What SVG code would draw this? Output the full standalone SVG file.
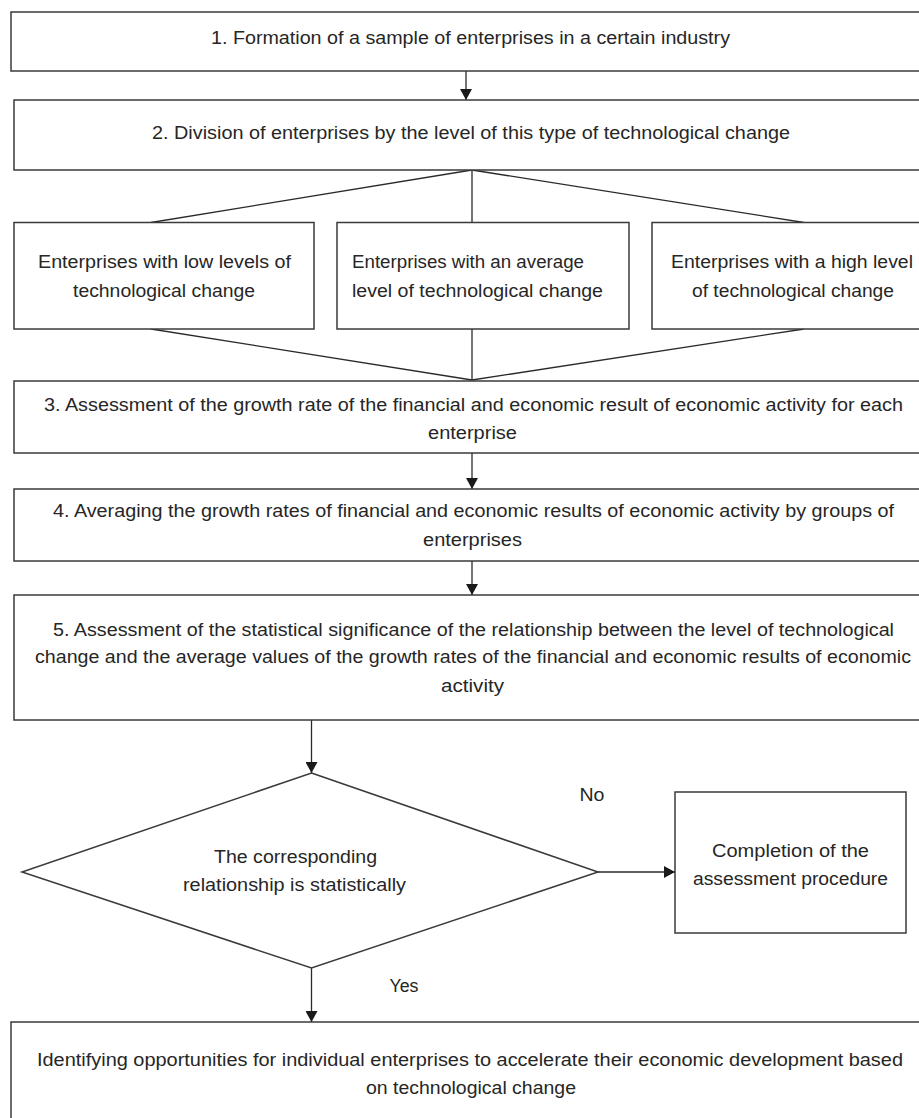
<svg xmlns="http://www.w3.org/2000/svg" width="919" height="1118" viewBox="0 0 919 1118">
<style>
.box{fill:#fff;stroke:#3a3a3a;stroke-width:1.5}
.ln{fill:none;stroke:#2a2a2a;stroke-width:1.3}
.t{font-family:"Liberation Sans",Arial,sans-serif;font-size:17.5px;fill:#262626;text-anchor:middle}
</style>
<defs>
<marker id="ah" markerUnits="userSpaceOnUse" markerWidth="12" markerHeight="12" refX="11" refY="6" orient="auto">
<path d="M0,0 L11,6 L0,12 Z" fill="#1a1a1a"/>
</marker>
</defs>
<rect width="919" height="1118" fill="#fff"/>
<g id="connectors">
<line class="ln" x1="466" y1="71" x2="466" y2="100" marker-end="url(#ah)"/>
<line class="ln" x1="472" y1="170" x2="151" y2="222.5"/>
<line class="ln" x1="472" y1="170" x2="472" y2="222.5"/>
<line class="ln" x1="472" y1="170" x2="804" y2="222.5"/>
<line class="ln" x1="151" y1="329" x2="472" y2="380"/>
<line class="ln" x1="472" y1="329" x2="472" y2="380"/>
<line class="ln" x1="804" y1="329" x2="472" y2="380"/>
<line class="ln" x1="472" y1="453" x2="472" y2="489" marker-end="url(#ah)"/>
<line class="ln" x1="472" y1="561" x2="472" y2="595" marker-end="url(#ah)"/>
<line class="ln" x1="311.5" y1="720" x2="311.5" y2="773" marker-end="url(#ah)"/>
<line class="ln" x1="598" y1="872" x2="675" y2="872" marker-end="url(#ah)"/>
<line class="ln" x1="311.5" y1="968" x2="311.5" y2="1022" marker-end="url(#ah)"/>
<text class="t" x="592" y="801" textLength="25" lengthAdjust="spacingAndGlyphs">No</text>
<text class="t" x="404" y="992" textLength="29" lengthAdjust="spacingAndGlyphs">Yes</text>
</g>
<g id="n1">
<rect class="box" x="11" y="12" width="1000" height="59"/>
<text class="t" x="470.5" y="44" textLength="519" lengthAdjust="spacingAndGlyphs">1. Formation of a sample of enterprises in a certain industry</text>
</g>
<g id="n2">
<rect class="box" x="14" y="100" width="1000" height="70"/>
<text class="t" x="471" y="139" textLength="638" lengthAdjust="spacingAndGlyphs">2. Division of enterprises by the level of this type of technological change</text>
</g>
<g id="n2a">
<rect class="box" x="14" y="222.5" width="300" height="106.5"/>
<text class="t" x="164.5" y="268" textLength="253" lengthAdjust="spacingAndGlyphs">Enterprises with low levels of</text>
<text class="t" x="164" y="297" textLength="182" lengthAdjust="spacingAndGlyphs">technological change</text>
</g>
<g id="n2b">
<rect class="box" x="337" y="222.5" width="292" height="106.5"/>
<text class="t" x="468" y="268" textLength="232" lengthAdjust="spacingAndGlyphs">Enterprises with an average</text>
<text class="t" x="477.5" y="297" textLength="251" lengthAdjust="spacingAndGlyphs">level of technological change</text>
</g>
<g id="n2c">
<rect class="box" x="652" y="222.5" width="400" height="106.5"/>
<text class="t" x="792" y="268" textLength="242" lengthAdjust="spacingAndGlyphs">Enterprises with a high level</text>
<text class="t" x="793" y="297" textLength="202" lengthAdjust="spacingAndGlyphs">of technological change</text>
</g>
<g id="n3">
<rect class="box" x="14" y="381" width="1000" height="72"/>
<text class="t" x="473.5" y="411" textLength="859" lengthAdjust="spacingAndGlyphs">3. Assessment of the growth rate of the financial and economic result of economic activity for each</text>
<text class="t" x="472.5" y="439" textLength="89" lengthAdjust="spacingAndGlyphs">enterprise</text>
</g>
<g id="n4">
<rect class="box" x="14" y="489" width="1000" height="72"/>
<text class="t" x="473.5" y="517" textLength="841" lengthAdjust="spacingAndGlyphs">4. Averaging the growth rates of financial and economic results of economic activity by groups of</text>
<text class="t" x="472.5" y="546" textLength="99" lengthAdjust="spacingAndGlyphs">enterprises</text>
</g>
<g id="n5">
<rect class="box" x="14" y="595" width="1000" height="125"/>
<text class="t" x="473.5" y="636" textLength="841" lengthAdjust="spacingAndGlyphs">5. Assessment of the statistical significance of the relationship between the level of technological</text>
<text class="t" x="473" y="663" textLength="876" lengthAdjust="spacingAndGlyphs">change and the average values of the growth rates of the financial and economic results of economic</text>
<text class="t" x="472.5" y="692" textLength="63" lengthAdjust="spacingAndGlyphs">activity</text>
</g>
<g id="decision">
<polygon class="box" points="311.5,773 598,872 311.5,968 22,872"/>
<text class="t" x="295.5" y="863" textLength="163" lengthAdjust="spacingAndGlyphs">The corresponding</text>
<text class="t" x="294.5" y="891" textLength="223" lengthAdjust="spacingAndGlyphs">relationship is statistically</text>
</g>
<g id="end">
<rect class="box" x="675" y="792" width="231" height="141"/>
<text class="t" x="790.5" y="857" textLength="157" lengthAdjust="spacingAndGlyphs">Completion of the</text>
<text class="t" x="790.5" y="885" textLength="195" lengthAdjust="spacingAndGlyphs">assessment procedure</text>
</g>
<g id="n6">
<rect class="box" x="11" y="1022" width="1000" height="200"/>
<text class="t" x="470" y="1066" textLength="866" lengthAdjust="spacingAndGlyphs">Identifying opportunities for individual enterprises to accelerate their economic development based</text>
<text class="t" x="471" y="1094" textLength="210" lengthAdjust="spacingAndGlyphs">on technological change</text>
</g>
</svg>
